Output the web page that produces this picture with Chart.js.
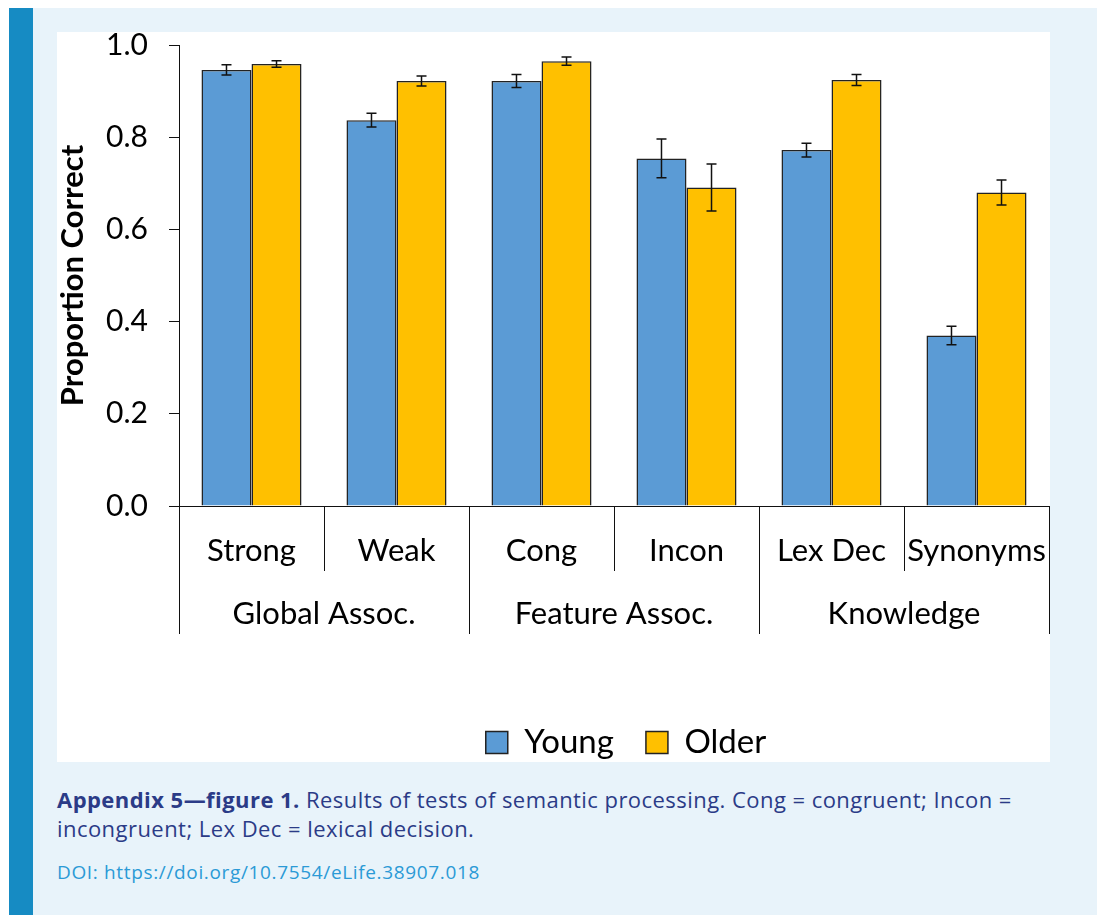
<!DOCTYPE html>
<html>
<head>
<meta charset="utf-8">
<script src="https://cdn.jsdelivr.net/npm/chart.js@4.4.0/dist/chart.umd.min.js"></script>
<style>
  html, body { margin: 0; padding: 0; background: #fff; }
  body { width: 1097px; height: 915px; position: relative; overflow: hidden; }
  #frame {
    position: absolute; left: 9px; top: 8px; width: 1088px; height: 907px;
    background: #e8f3fa; border-left: 24px solid #168bc3; box-sizing: border-box;
  }
  #panel { position: absolute; left: 57px; top: 32px; width: 993px; height: 730px; background: #fff; }
  #chart { position: absolute; left: 0; top: 0; }
  #caption {
    position: absolute; left: 57px; top: 785px; width: 1040px;
    font-family: "Open Sans", "Noto Sans", sans-serif; font-size: 22px; line-height: 29px;
    letter-spacing: 0.45px; color: #2b3b87; white-space: nowrap;
  }
  #caption b { font-weight: 700; }
  #doi {
    position: absolute; left: 57px; top: 859px; font-family: "Open Sans", "Noto Sans", sans-serif;
    font-size: 19px; letter-spacing: 0.65px; color: #2b9ad6;
  }
</style>
</head>
<body>
<div id="frame"></div>
<div id="panel"><canvas id="chart" width="993" height="740"></canvas></div>
<div id="caption"><b>Appendix 5—figure 1.</b> Results of tests of semantic processing. Cong = congruent; Incon =<br>incongruent; Lex Dec = lexical decision.</div>
<div id="doi">DOI: https://doi.org/10.7554/eLife.38907.018</div>
<script>
// values
const categories = ['Strong', 'Weak', 'Cong', 'Incon', 'Lex Dec', 'Synonyms'];
const groups = ['Global Assoc.', 'Feature Assoc.', 'Knowledge'];
const youngValues = [0.946, 0.837, 0.922, 0.754, 0.772, 0.370];
const youngErrors = [0.011, 0.015, 0.014, 0.042, 0.015, 0.020];
const olderValues = [0.959, 0.922, 0.965, 0.691, 0.924, 0.680];
const olderErrors = [0.007, 0.011, 0.009, 0.051, 0.012, 0.027];

const labelFont = 'Lato, "Noto Sans", sans-serif';

// error bars on top of each bar
const errorBarPlugin = {
    id: 'errorBars',
    afterDatasetsDraw(chart) {
        const ctx = chart.ctx;
        const y = chart.scales.y;
        ctx.save();
        ctx.strokeStyle = '#111';
        ctx.lineWidth = 1.5;
        chart.data.datasets.forEach((ds, di) => {
            const meta = chart.getDatasetMeta(di);
            meta.data.forEach((bar, i) => {
                const v = ds.data[i];
                const e = ds.errors[i];
                const top = y.getPixelForValue(v + e);
                const bot = y.getPixelForValue(v - e);
                ctx.beginPath();
                ctx.moveTo(bar.x, top); ctx.lineTo(bar.x, bot);
                ctx.moveTo(bar.x - 5, top); ctx.lineTo(bar.x + 5, top);
                ctx.moveTo(bar.x - 5, bot); ctx.lineTo(bar.x + 5, bot);
                ctx.stroke();
            });
        });
        ctx.restore();
    }
};

// two-level category axis (items + groups with separators)
const groupAxisPlugin = {
    id: 'groupAxis',
    afterLayout(chart) {
        // legend sits a little right of centre in the original
        chart.legend.left += 12;
        chart.legend.right += 12;
    },
    afterDraw(chart) {
        const ctx = chart.ctx;
        const x = chart.scales.x;
        const base = chart.chartArea.bottom;
        ctx.save();
        ctx.strokeStyle = '#111';
        ctx.lineWidth = 1;
        ctx.fillStyle = '#000';
        ctx.font = '31px ' + labelFont;
        ctx.textAlign = 'center';
        ctx.textBaseline = 'middle';
        for (let i = 0; i <= categories.length; i++) {
            const px = Math.round(x.getPixelForValue(i - 0.5)) + 0.5;
            const len = (i % 2 === 0) ? 128 : 65;
            ctx.beginPath();
            ctx.moveTo(px, base);
            ctx.lineTo(px, base + len);
            ctx.stroke();
        }
        categories.forEach((c, i) => {
            ctx.fillText(c, x.getPixelForValue(i), base + 45);
        });
        groups.forEach((g, gi) => {
            const mid = (x.getPixelForValue(gi * 2 - 0.5) + x.getPixelForValue(gi * 2 + 1.5)) / 2;
            ctx.fillText(g, mid, base + 108);
        });
        ctx.restore();
    }
};

new Chart(document.getElementById('chart'), {
    type: 'bar',
    data: {
        labels: categories,
        datasets: [{
            label: 'Young',
            data: youngValues,
            errors: youngErrors,
            backgroundColor: '#5b9bd5',
            borderColor: '#222',
            borderWidth: 1.5,
            borderSkipped: 'bottom'
        }, {
            label: 'Older',
            data: olderValues,
            errors: olderErrors,
            backgroundColor: '#ffc000',
            borderColor: '#222',
            borderWidth: 1.5,
            borderSkipped: 'bottom'
        }]
    },
    options: {
        responsive: false,
        animation: false,
        categoryPercentage: 0.69,
        barPercentage: 1.0,
        layout: { padding: { top: 13, right: 1, bottom: 3 } },
        plugins: {
            legend: {
                position: 'bottom',
                fullSize: false,
                labels: {
                    boxWidth: 22,
                    boxHeight: 22,
                    padding: 32,
                    color: '#000',
                    font: { size: 33, family: labelFont }
                }
            },
            tooltip: { enabled: false }
        },
        scales: {
            x: {
                grid: { display: false },
                border: { color: '#111', width: 1 },
                ticks: { display: false },
                afterFit(scale) { scale.height = 188; }
            },
            y: {
                min: 0,
                max: 1,
                grid: { drawOnChartArea: false, drawTicks: true, tickLength: 10, color: '#111' },
                border: { color: '#111', width: 1 },
                ticks: {
                    stepSize: 0.2,
                    padding: 21,
                    color: '#000',
                    font: { size: 30, family: labelFont },
                    callback: (v) => v.toFixed(1)
                },
                title: {
                    display: true,
                    text: 'Proportion Correct',
                    color: '#000',
                    padding: { top: 0, bottom: 0 },
                    font: { size: 31, weight: 'bold', family: labelFont, lineHeight: 1 }
                },
                afterFit(scale) {
                    scale.width = 122;
                    scale.paddingTop = 0;
                    scale.paddingBottom = 0;
                }
            }
        }
    },
    plugins: [errorBarPlugin, groupAxisPlugin]
});
</script>
</body>
</html>
